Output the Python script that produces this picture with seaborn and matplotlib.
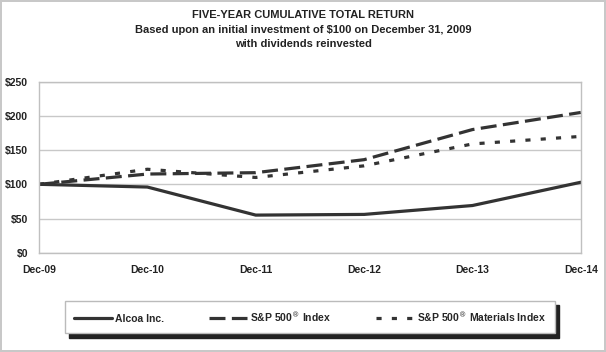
import pandas as pd
import matplotlib.pyplot as plt
import seaborn as sns

# Datos
years = ["Dec-09", "Dec-10", "Dec-11", "Dec-12", "Dec-13", "Dec-14"]
alcoa = [100, 96, 55, 56, 69, 103]
sp500 = [100, 115, 117, 136, 180, 205]
materials = [100, 122, 110, 127, 159, 170]
series_names = ["Alcoa Inc.", "S&P 500® Index", "S&P 500® Materials Index"]
legend_labels = ["Alcoa Inc.", "S&P 500$^{®}$ Index", "S&P 500$^{®}$ Materials Index"]
y_ticks = [0, 50, 100, 150, 200, 250]

df = pd.DataFrame({
    "x": list(range(len(years))) * 3,
    "valor": alcoa + sp500 + materials,
    "serie": [s for s in series_names for _ in years],
})

sns.set_style("white")
plt.rcParams['font.family'] = ['Liberation Sans', 'DejaVu Sans']
plt.rcParams['mathtext.fontset'] = 'custom'
plt.rcParams['mathtext.rm'] = 'DejaVu Sans'

fig = plt.figure(figsize=(6.06, 3.52), dpi=100, linewidth=1.5, edgecolor='#c8c8c8')
ax = fig.add_axes([0.0644, 0.282, 0.894, 0.486])

line_color = '#333333'
sns.lineplot(data=df, x="x", y="valor", style="serie", ax=ax,
             color=line_color, linewidth=2.3,
             dashes={series_names[0]: "", series_names[1]: (5, 2), series_names[2]: (1.6, 3.2)},
             legend=False)

ax.set_xlim(0, len(years) - 1)
ax.set_ylim(0, 250)
ax.set_xticks(range(len(years)))
ax.set_xticklabels(years, fontsize=7.5, fontweight='bold', color='#222')
ax.set_yticks(y_ticks)
ax.set_yticklabels([f"${v}" for v in y_ticks], fontsize=7.5, fontweight='bold', color='#222')
ax.set_xlabel("")
ax.set_ylabel("")
ax.yaxis.grid(True, color='#c8c8c8', linewidth=1)
ax.tick_params(axis='x', length=4, color='#b0b0b0', direction='out', pad=5)
ax.tick_params(axis='y', length=0, pad=8)
for sp in ax.spines.values():
    sp.set_color('#c0c0c0')
    sp.set_linewidth(1)

# Títulos
fig.text(0.5, 0.958, "FIVE-YEAR CUMULATIVE TOTAL RETURN", ha='center', va='center',
         fontsize=8, fontweight='bold', color='#222')
fig.text(0.5, 0.916, "Based upon an initial investment of $100 on December 31, 2009",
         ha='center', va='center', fontsize=8, fontweight='bold', color='#222')
fig.text(0.5, 0.874, "with dividends reinvested", ha='center', va='center',
         fontsize=8, fontweight='bold', color='#222')

# Leyenda
handles = ax.get_lines()[:3]
leg = fig.legend(handles, legend_labels, loc='lower left', ncol=3, mode='expand',
                 bbox_to_anchor=(0.107, 0.053, 0.809, 0.088), frameon=True,
                 fancybox=False, shadow={'color': '#222222', 'alpha': 1, 'ox': 3, 'oy': -3},
                 handlelength=3.6, handletextpad=0.3, borderpad=0.9, borderaxespad=0,
                 prop={'weight': 'bold', 'size': 7.5})
leg.get_frame().set_edgecolor('#bbbbbb')
leg.get_frame().set_linewidth(1)

fig.savefig("out.png", dpi=100)
